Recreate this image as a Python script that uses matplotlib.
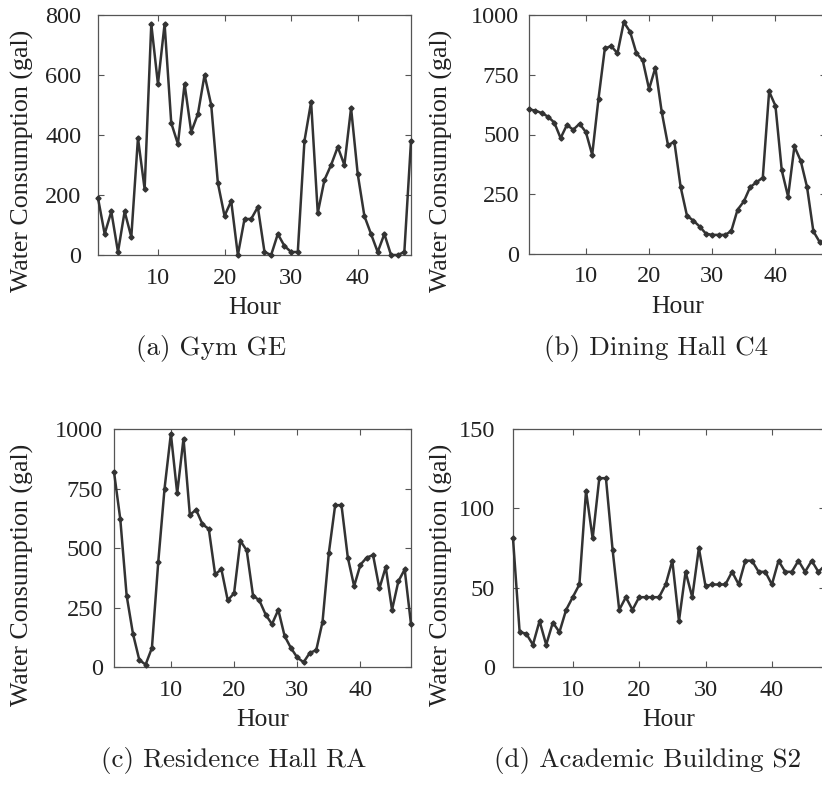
import numpy as np
import matplotlib
matplotlib.use("Agg")
import matplotlib.pyplot as plt

hours = np.arange(1, 49)

gym_ge = [190, 70, 145, 10, 145, 60, 390, 220, 770, 570, 770, 440,
          370, 570, 410, 470, 600, 500, 240, 130, 180, 0, 120, 120,
          160, 10, 0, 70, 30, 10, 10, 380, 510, 140, 250, 300,
          360, 300, 490, 270, 130, 70, 10, 70, 0, 0, 10, 380]

dining_c4 = [605, 600, 590, 575, 550, 485, 540, 520, 545, 510, 415, 650,
             860, 870, 840, 970, 930, 840, 810, 690, 780, 595, 455, 470,
             280, 160, 140, 115, 85, 80, 80, 80, 95, 185, 220, 280,
             300, 320, 680, 620, 350, 240, 450, 390, 280, 95, 50, 40]

residence_ra = [820, 620, 300, 140, 30, 10, 80, 440, 750, 980, 730, 960,
                640, 660, 600, 580, 390, 410, 280, 310, 530, 490, 300, 280,
                220, 180, 240, 130, 80, 40, 20, 60, 70, 190, 480, 680,
                680, 460, 340, 430, 460, 470, 330, 420, 240, 360, 410, 180]

academic_s2 = [81, 22, 21, 14, 29, 14, 28, 22, 36, 44, 52, 111,
               81, 119, 119, 74, 36, 44, 36, 44, 44, 44, 44, 52,
               67, 29, 60, 44, 75, 51, 52, 52, 52, 60, 52, 67,
               67, 60, 60, 52, 67, 60, 60, 67, 60, 67, 60, 64]

series = [gym_ge, dining_c4, residence_ra, academic_s2]
captions = ["(a) Gym GE", "(b) Dining Hall C4",
            "(c) Residence Hall RA", "(d) Academic Building S2"]
yticks = [[0, 200, 400, 600, 800],
          [0, 250, 500, 750, 1000],
          [0, 250, 500, 750, 1000],
          [0, 50, 100, 150]]

W, H = 822, 787
# axes boxes in pixels: left, top, right, bottom
boxes = [(98, 15, 411, 255),
         (529, 15, 826, 254),
         (114, 429, 411, 667),
         (513, 429, 825, 667)]
ylabel_x = [22, 441, 22, 441]
caption_x = [211, 656, 234, 648]
ypad = [12, 7, 8, 13]

line_c = "#333333"
text_c = "#222222"
serif = "Liberation Serif"

fig = plt.figure(figsize=(W / 100, H / 100), dpi=100)

for i in range(4):
    l, t, r, b = boxes[i]
    ax = fig.add_axes([l / W, 1 - b / H, (r - l) / W, (b - t) / H])
    ax.plot(hours, series[i], color=line_c, lw=1.8, marker="D", ms=2.6,
            clip_on=False, zorder=3)
    ax.set_xlim(1, 48)
    ax.set_ylim(yticks[i][0], yticks[i][-1])
    ax.set_xticks([10, 20, 30, 40])
    ax.set_yticks(yticks[i])
    ax.tick_params(direction="in", top=True, right=True, length=4,
                   width=0.8, color="#555555", labelsize=17.5,
                   labelcolor=text_c)
    ax.tick_params(axis="x", pad=9)
    ax.tick_params(axis="y", pad=ypad[i])
    for lab in ax.get_xticklabels() + ax.get_yticklabels():
        lab.set_fontfamily(serif)
    for s in ax.spines.values():
        s.set_color("#555555")
        s.set_linewidth(0.9)
    ax.set_xlabel("Hour", fontsize=18.5, family=serif, color=text_c,
                  labelpad=6)
    fig.text(ylabel_x[i] / W, 1 - (t + 146) / H, "Water Consumption (gal)",
             rotation=90, ha="center", va="center", fontsize=18.6,
             family=serif, color=text_c)
    fig.text(caption_x[i] / W, 1 - (b + 94) / H, captions[i],
             ha="center", va="center", fontsize=19.5, family="cmr10",
             color=text_c)

fig.savefig("out.png", dpi=100)
